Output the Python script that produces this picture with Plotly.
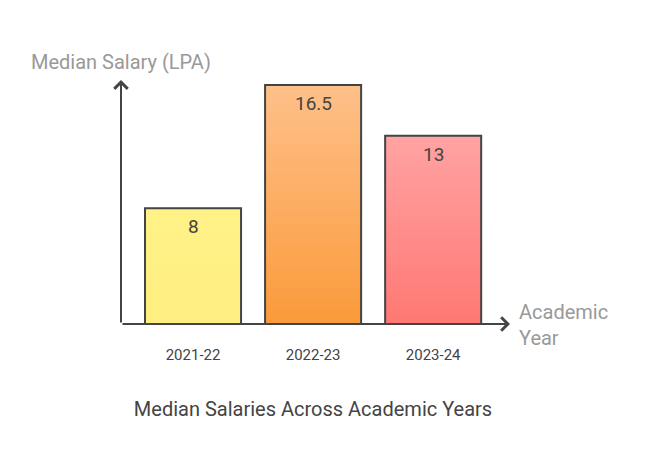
import plotly.graph_objects as go

years = ["2021-22", "2022-23", "2023-24"]
salaries = [8, 16.5, 13]
top_colors = ["#FFF287", "#FFC08A", "#FFA3A3"]
bottom_colors = ["#FFEE80", "#FA9A3A", "#FF7873"]

title_text = "Median Salaries Across Academic Years"
y_title = "Median Salary (LPA)"
x_title = "Academic<br>Year"

FONT = "Roboto, 'Open Sans', sans-serif"
DARK = "#444444"
GREY = "#999999"
HALF = 0.4

fig = go.Figure()

for i, (yr, v) in enumerate(zip(years, salaries)):
    xs = [i - HALF, i - HALF, i + HALF, i + HALF, i - HALF]
    ys = [0, v, v, 0, 0]
    fig.add_trace(go.Scatter(
        x=xs, y=ys, mode="lines", fill="toself",
        fillgradient=dict(type="vertical",
                          colorscale=[[0, bottom_colors[i]], [1, top_colors[i]]],
                          start=0, stop=v),
        line=dict(color=DARK, width=2),
        hoverinfo="skip", showlegend=False,
    ))
    fig.add_annotation(x=i, y=v, xref="x", yref="y", text=str(v),
                       showarrow=False, yanchor="top", yshift=-5,
                       font=dict(family=FONT, size=19, color=DARK))

x_min, x_max = -0.6, 2.64
y_min, y_max = -0.276, 16.85

# axis lines with open arrowheads
fig.add_annotation(x=x_min, y=y_max, ax=x_min, ay=0, xref="x", yref="y",
                   axref="x", ayref="y", text="", showarrow=True,
                   arrowhead=4, arrowsize=1.3, arrowwidth=2, arrowcolor=DARK)
fig.add_annotation(x=x_max, y=0, ax=x_min, ay=0, xref="x", yref="y",
                   axref="x", ayref="y", text="", showarrow=True,
                   arrowhead=4, arrowsize=1.3, arrowwidth=2, arrowcolor=DARK)

fig.add_annotation(x=-0.2365, y=1.0726, xref="paper", yref="paper", text=y_title,
                   showarrow=False, xanchor="left", yanchor="middle",
                   font=dict(family=FONT, size=20, color=GREY))
fig.add_annotation(x=1.018, y=0.011, xref="paper", yref="paper", text=x_title,
                   showarrow=False, xanchor="left", yanchor="middle", align="left",
                   font=dict(family=FONT, size=20, color=GREY))

fig.update_layout(
    width=650, height=471,
    margin=dict(l=121, r=140, t=80, b=143),
    paper_bgcolor="white", plot_bgcolor="white",
    title=dict(text=title_text, x=313 / 650, xanchor="center",
               y=1 - 409 / 471, yref="container", yanchor="middle",
               font=dict(family=FONT, size=20, color=DARK)),
    xaxis=dict(range=[x_min, x_max], tickvals=list(range(len(years))),
               ticktext=years, showgrid=False, zeroline=False, showline=False,
               ticks="", ticklabelstandoff=16,
               tickfont=dict(family=FONT, size=15, color=DARK)),
    yaxis=dict(range=[y_min, y_max], showgrid=False, zeroline=False,
               showline=False, showticklabels=False, ticks=""),
    showlegend=False,
)

fig.write_html("out.html")
